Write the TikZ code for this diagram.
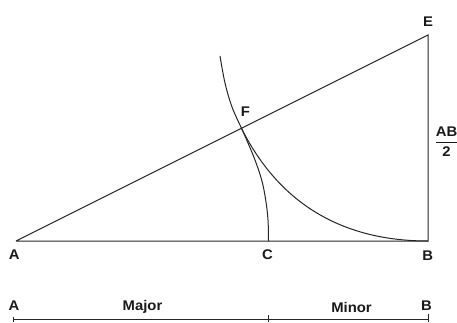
\documentclass[tikz,border=0pt]{standalone}
\usepackage{fontspec}
\setmainfont[FakeStretch=1.06]{Liberation Sans}
\begin{document}
\begin{tikzpicture}[x=1pt,y=-1pt,
  geo/.style={draw=black!85,line width=1pt},
  lab/.style={font=\fontsize{14}{16}\selectfont\bfseries,text=black!90,inner sep=0pt},
  tick/.style={draw=black!85,line width=0.9pt}]
\useasboundingbox (0,0) rectangle (457,322);
% points
\coordinate (A) at (16,241);
\coordinate (B) at (428,241);
\coordinate (E) at (428,35);
\coordinate (C) at (268.5,241);
\coordinate (F) at (241.5,128.3);
\coordinate (T) at (220,56);
% triangle
\draw[geo] (A) -- (B) -- (E) -- (A);
% arc about A through C and F
\draw[geo] plot[smooth,tension=0.6] coordinates {(C) (268,220) (265.7,200) (261.7,180) (255,160) (248,143) (F) (232,107) (225,83) (T)};
% arc about E through F and B
\draw[geo] (F) .. controls (279.5,204.3) and (343,241) .. (B);
% labels
\node[lab] (lA) at (14.3,255) {A};
\node[lab] (lC) at (267.5,255) {C};
\node[lab] (lB) at (427.7,256) {B};
\node[lab] (lE) at (428,21.7) {E};
\node[lab] (lF) at (245.5,112) {F};
\node[lab] (lAB) at (446.5,141.5) {$\displaystyle\frac{\mbox{AB}}{\mbox{2}}$};
% bottom scale
\coordinate (S1) at (13.3,319.3);
\coordinate (S2) at (268.3,319.3);
\coordinate (S3) at (428.7,319.3);
\draw[tick] (S1) -- (S3);
\draw[tick] (13.3,316.5) -- (13.3,322);
\draw[tick] (268.3,315) -- (268.3,322);
\draw[tick] (428.7,313.5) -- (428.7,322);
\node[lab] (bA) at (14,305.8) {A};
\node[lab] (bB) at (426.5,305.5) {B};
\node[lab] (maj) at (142.5,307) {Major};
\node[lab] (min) at (351.5,307) {Minor};
\end{tikzpicture}
\end{document}
